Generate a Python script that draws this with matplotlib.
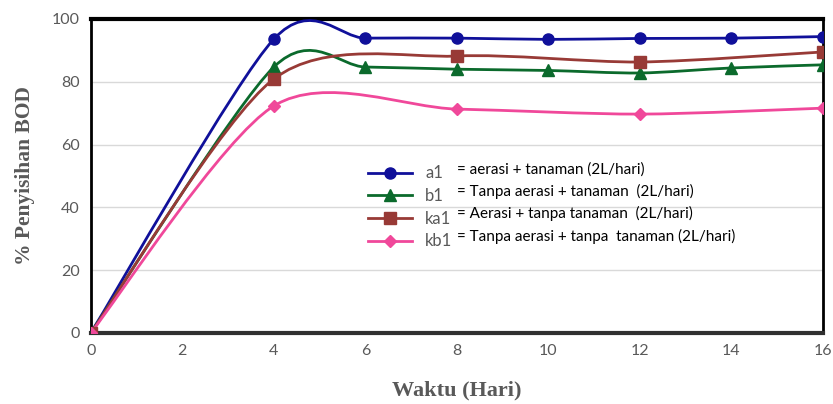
import matplotlib
matplotlib.use("Agg")
import matplotlib.pyplot as plt
import numpy as np
from matplotlib.path import Path
from matplotlib.patches import PathPatch
from matplotlib.lines import Line2D

# data
x_full = [0, 4, 6, 8, 10, 12, 14, 16]
x_half = [0, 4, 8, 12, 16]
a1 = [0, 93.6, 93.9, 93.9, 93.5, 93.8, 93.9, 94.4]
b1 = [0, 84.7, 84.7, 84.0, 83.6, 82.8, 84.4, 85.4]
ka1 = [0, 80.9, 88.2, 86.3, 89.5]
kb1 = [0, 72.3, 71.3, 69.7, 71.6]

series = [
    ("a1", x_full, a1, "#10109a", "o", 8, "= aerasi + tanaman (2L/hari)"),
    ("b1", x_full, b1, "#0b6a2c", "^", 8, "= Tanpa aerasi + tanaman  (2L/hari)"),
    ("ka1", x_half, ka1, "#983a36", "s", 8, "= Aerasi + tanpa tanaman  (2L/hari)"),
    ("kb1", x_half, kb1, "#f0489a", "D", 6, "= Tanpa aerasi + tanpa  tanaman (2L/hari)"),
]


def smooth_path(xs, ys, k=0.14):
    # excel style smoothed line: catmull-rom like cubic bezier
    p = np.column_stack([xs, ys]).astype(float)
    verts = [p[0]]
    codes = [Path.MOVETO]
    n = len(p)
    for i in range(n - 1):
        p0 = p[i - 1] if i > 0 else p[i]
        p3 = p[i + 2] if i + 2 < n else p[i + 1]
        c1 = p[i] + (p[i + 1] - p0) * k
        c2 = p[i + 1] - (p3 - p[i]) * k
        verts += [c1, c2, p[i + 1]]
        codes += [Path.CURVE4] * 3
    return Path(verts, codes)


fig = plt.figure(figsize=(8.33, 4.04), dpi=100)
ax = fig.add_axes([0.109, 0.176, 0.879, 0.777])

for name, xs, ys, col, mk, ms, desc in series:
    ax.add_patch(PathPatch(smooth_path(xs, ys), fill=False, edgecolor=col, lw=2, zorder=3))
    ax.plot(xs, ys, linestyle="none", marker=mk, color=col, markersize=ms, zorder=4)

ax.set_xlim(0, 16)
ax.set_ylim(0, 100)
ax.set_xticks(range(0, 17, 2))
ax.set_yticks(range(0, 101, 20))
ax.grid(axis="y", color="#d9d9d9", lw=1)
ax.set_axisbelow(True)
ax.tick_params(length=0, labelsize=11.5, labelcolor="#595959", pad=8)
for lab in ax.get_xticklabels() + ax.get_yticklabels():
    lab.set_family("Lato")
for s in ["top", "left", "right"]:
    ax.spines[s].set_color("black")
    ax.spines[s].set_linewidth(2)
ax.spines["top"].set_linewidth(3)
ax.spines["bottom"].set_color("#303030")
ax.spines["bottom"].set_linewidth(3)

ax.set_xlabel("Waktu (Hari)", family="Liberation Serif", weight="bold",
              fontsize=16, color="#595959", labelpad=16)
ax.set_ylabel("% Penyisihan BOD", family="Liberation Serif", weight="bold",
              fontsize=15.5, color="#595959", labelpad=12)

handles = [Line2D([], [], color=c, marker=m, markersize=ms, lw=2)
           for _, _, _, c, m, ms, _ in series]
leg = ax.legend(handles, [s[0] for s in series], frameon=False,
                loc="upper left", bbox_to_anchor=(0.37, 0.555),
                handlelength=2.6, labelspacing=0.4, borderaxespad=0,
                prop={"family": "Lato", "size": 12})
for t in leg.get_texts():
    t.set_color("#595959")

desc_y = [170, 191, 213, 236]
for (_, _, _, _, _, _, desc), py in zip(series, desc_y):
    fig.text(457 / 833, 1 - py / 404, desc, family="Lato", fontsize=11,
             color="black", va="center", ha="left")

fig.savefig("out.png", dpi=100)
